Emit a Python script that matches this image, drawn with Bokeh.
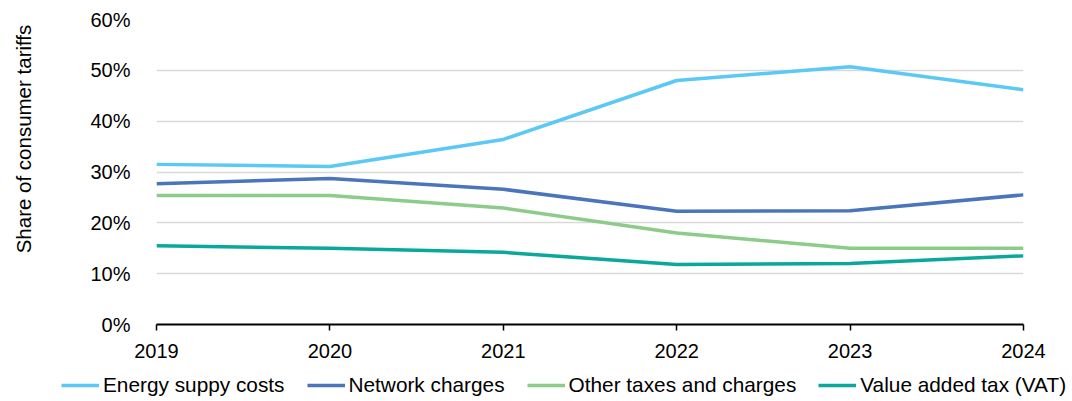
import math
from bokeh.plotting import figure
from bokeh.layouts import column, row
from bokeh.models import Legend, LegendItem, FixedTicker, NumeralTickFormatter, Range1d, Label
from bokeh.embed import file_html
from bokeh.resources import INLINE

years = [2019, 2020, 2021, 2022, 2023, 2024]
energy_supply = [0.315, 0.311, 0.364, 0.480, 0.507, 0.462]
network_charges = [0.277, 0.287, 0.266, 0.223, 0.224, 0.255]
other_taxes = [0.254, 0.254, 0.229, 0.180, 0.150, 0.150]
vat = [0.155, 0.150, 0.142, 0.118, 0.120, 0.135]

series_names = ["Energy suppy costs", "Network charges", "Other taxes and charges", "Value added tax (VAT)"]
series_values = [energy_supply, network_charges, other_taxes, vat]
colors = ["#5BC8F5", "#4A75BC", "#8DCB8A", "#0AA89A"]
y_label = "Share of consumer tariffs"

FONT = "Liberation Sans"
FS = "20px"

# ---- strip holding the vertical axis title ----
LW, MH = 45, 370
lab = figure(width=LW, height=MH, output_backend="svg", toolbar_location=None,
             x_range=Range1d(0, LW), y_range=Range1d(0, MH),
             x_axis_location=None, y_axis_location=None,
             min_border_left=0, min_border_right=0, min_border_top=0, min_border_bottom=0)
lab.grid.visible = False
lab.outline_line_color = None
lab.background_fill_color = "white"
lab.border_fill_color = "white"
lab.add_layout(Label(x=23, y=MH - 145, text=y_label, angle=math.pi / 2,
                     text_align="center", text_baseline="middle",
                     text_font=FONT, text_font_size="20.5px", text_color="black"))

# ---- main chart ----
p = figure(frame_width=867, frame_height=305, output_backend="svg", toolbar_location=None,
           x_range=Range1d(2019, 2024), y_range=Range1d(0, 0.6),
           min_border_left=156 - LW, min_border_right=49, min_border_top=19, min_border_bottom=46)
p.outline_line_color = None
p.background_fill_color = "white"
p.border_fill_color = "white"

for name, vals, c in zip(series_names, series_values, colors):
    p.line(years, vals, line_color=c, line_width=3.5)

p.xaxis.ticker = FixedTicker(ticks=years)
p.xaxis.major_label_text_font = FONT
p.xaxis.major_label_text_font_size = FS
p.xaxis.major_label_text_color = "black"
p.xaxis.axis_line_color = "black"
p.xaxis.axis_line_width = 2
p.xaxis.major_tick_line_color = "black"
p.xaxis.major_tick_line_width = 1.5
p.xaxis.major_tick_out = 6
p.xaxis.major_tick_in = 0
p.xaxis.minor_tick_line_color = None
p.xaxis.major_label_standoff = 13

p.yaxis.ticker = FixedTicker(ticks=[0, 0.1, 0.2, 0.3, 0.4, 0.5, 0.6])
p.yaxis.formatter = NumeralTickFormatter(format="0%")
p.yaxis.major_label_text_font = FONT
p.yaxis.major_label_text_font_size = FS
p.yaxis.major_label_text_color = "black"
p.yaxis.axis_line_color = None
p.yaxis.major_tick_line_color = None
p.yaxis.minor_tick_line_color = None
p.yaxis.major_label_standoff = 20

p.xgrid.grid_line_color = None
p.ygrid.grid_line_color = "#D9D9D9"
p.ygrid.grid_line_width = 1.5

# ---- legend strip below the chart ----
lg = figure(width=1072, height=31, output_backend="svg", toolbar_location=None,
            x_range=Range1d(0, 1), y_range=Range1d(0, 1),
            x_axis_location=None, y_axis_location=None,
            min_border_left=0, min_border_right=0, min_border_top=0, min_border_bottom=0)
lg.grid.visible = False
lg.outline_line_color = None
lg.background_fill_color = "white"
lg.border_fill_color = "white"
nan = float("nan")
items = []
for name, c in zip(series_names, colors):
    r = lg.line(x=[nan, nan], y=[nan, nan], line_color=c, line_width=3.5)
    items.append(LegendItem(label=name, renderers=[r]))

legend = Legend(items=items, orientation="horizontal", location=(61, 4),
                glyph_width=38, glyph_height=12, label_standoff=4, spacing=22,
                padding=0, margin=0, border_line_color=None, background_fill_alpha=0,
                label_text_font=FONT, label_text_font_size="20.8px", label_text_color="black")
lg.add_layout(legend)

layout = column(row(lab, p, spacing=0), lg, spacing=0)
open("out.html", "w").write(file_html(layout, INLINE))
